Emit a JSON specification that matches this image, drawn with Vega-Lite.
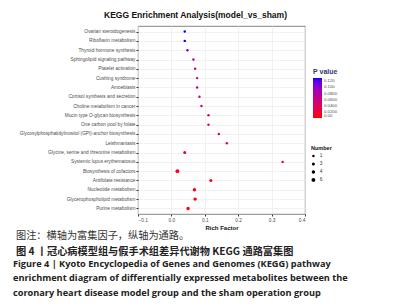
{
  "$schema": "https://vega.github.io/schema/vega-lite/v6.json",
  "padding": {"left": 12, "top": 10, "right": 0, "bottom": 0},
  "background": "white",
  "config": {
    "font": "Liberation Sans",
    "view": {"stroke": "#666666", "strokeWidth": 0.8},
    "concat": {"spacing": 0}
  },
  "title": {
    "text": ["Figure 4  |  Kyoto Encyclopedia of Genes and Genomes (KEGG) pathway", "enrichment diagram of differentially expressed metabolites between the", "coronary heart disease model group and the sham operation group"],
    "orient": "bottom",
    "anchor": "start",
    "frame": "bounds",
    "dx": -3,
    "offset": 3,
    "font": "Open Sans",
    "fontSize": 9.2,
    "fontWeight": "bold",
    "color": "#222222",
    "lineHeight": 14.3
  },
  "vconcat": [
    {
      "title": {
        "text": "图注：横轴为富集因子，纵轴为通路。",
        "subtitle": "图 4 丨冠心病模型组与假手术组差异代谢物 KEGG 通路富集图",
        "orient": "bottom",
        "anchor": "start",
        "frame": "bounds",
        "dx": -3,
        "offset": 0,
        "font": "Noto Sans CJK SC",
        "fontSize": 10.2,
        "fontWeight": "normal",
        "color": "#333333",
        "subtitleFont": "Noto Sans CJK SC",
        "subtitleFontSize": 10.2,
        "subtitleFontWeight": "bold",
        "subtitleColor": "#222222",
        "subtitlePadding": 6
      },
      "vconcat": [
        {
          "width": 167,
          "height": 188,
          "title": {
            "text": "KEGG Enrichment Analysis(model_vs_sham)",
            "anchor": "start",
            "frame": "group",
            "dx": -34,
            "offset": 7,
            "fontSize": 8.5,
            "fontWeight": "bold",
            "color": "#111111"
          },
          "data": {
            "values": [
              {"pathway": "Ovarian steroidogenesis", "rich": 0.040, "number": 1, "p": 0.131},
              {"pathway": "Riboflavin metabolism", "rich": 0.040, "number": 1, "p": 0.131},
              {"pathway": "Thyroid hormone synthesis", "rich": 0.048, "number": 1, "p": 0.112},
              {"pathway": "Sphingolipid signaling pathway", "rich": 0.066, "number": 1, "p": 0.083},
              {"pathway": "Platelet activation", "rich": 0.071, "number": 1, "p": 0.077},
              {"pathway": "Cushing syndrome", "rich": 0.077, "number": 1, "p": 0.071},
              {"pathway": "Amoebiasis", "rich": 0.077, "number": 1, "p": 0.071},
              {"pathway": "Cortisol synthesis and secretion", "rich": 0.084, "number": 1, "p": 0.066},
              {"pathway": "Choline metabolism in cancer", "rich": 0.090, "number": 1, "p": 0.061},
              {"pathway": "Mucin type O-glycan biosynthesis", "rich": 0.111, "number": 1, "p": 0.050},
              {"pathway": "One carbon pool by folate", "rich": 0.111, "number": 1, "p": 0.050},
              {"pathway": "Glycosylphosphatidylinositol (GPI)-anchor biosynthesis", "rich": 0.142, "number": 1, "p": 0.039},
              {"pathway": "Leishmaniasis", "rich": 0.166, "number": 1, "p": 0.033},
              {"pathway": "Glycine, serine and threonine metabolism", "rich": 0.040, "number": 3, "p": 0.025},
              {"pathway": "Systemic lupus erythematosus", "rich": 0.333, "number": 1, "p": 0.017},
              {"pathway": "Biosynthesis of cofactors", "rich": 0.018, "number": 6, "p": 0.010},
              {"pathway": "Antifolate resistance", "rich": 0.118, "number": 3, "p": 0.007},
              {"pathway": "Nucleotide metabolism", "rich": 0.069, "number": 4, "p": 0.004},
              {"pathway": "Glycerophospholipid metabolism", "rich": 0.071, "number": 4, "p": 0.003},
              {"pathway": "Purine metabolism", "rich": 0.050, "number": 4, "p": 0.002}
            ]
          },
          "mark": {"type": "circle", "opacity": 1},
          "encoding": {
            "x": {
              "field": "rich",
              "type": "quantitative",
              "scale": {"domain": [-0.1, 0.4], "nice": false, "zero": false},
              "axis": {
                "title": "Rich Factor",
                "values": [-0.1, 0, 0.1, 0.2, 0.3, 0.4],
                "labelFontSize": 4.8,
                "labelColor": "#4d4d4d",
                "labelPadding": 1.5,
                "tickSize": 2,
                "tickColor": "#333333",
                "domain": false,
                "gridColor": "#ebebeb",
                "gridWidth": 0.7,
                "titleFontSize": 6,
                "titleFontWeight": "bold",
                "titleColor": "#111111",
                "titlePadding": 2
              }
            },
            "y": {
              "field": "pathway",
              "type": "nominal",
              "sort": null,
              "scale": {"type": "point", "padding": 0.6},
              "axis": {
                "title": null,
                "labelFontSize": 4.75,
                "labelColor": "#4d4d4d",
                "labelPadding": 1,
                "labelLimit": 300,
                "tickSize": 2,
                "tickColor": "#333333",
                "domain": false,
                "grid": true,
                "gridColor": "#ebebeb",
                "gridWidth": 0.7
              }
            },
            "color": {
              "field": "p",
              "type": "quantitative",
              "scale": {"domain": [0, 0.131], "range": ["#ff0000", "#0000ff"], "interpolate": "lab"},
              "legend": {
                "title": "P value",
                "orient": "none",
                "legendX": 175,
                "legendY": 42,
                "direction": "vertical",
                "gradientLength": 40,
                "gradientThickness": 9,
                "gradientStrokeWidth": 0,
                "values": [0, 0.02, 0.04, 0.06, 0.08, 0.1, 0.12],
                "labelExpr": "datum.value == 0 ? '0.00' : (datum.value >= 0.099 ? format(datum.value, '.3f') : format(datum.value, '.4f'))",
                "labelOverlap": false,
                "labelFontSize": 4.3,
                "labelColor": "#4d4d4d",
                "titleFontSize": 7,
                "titleFontWeight": "bold",
                "titleColor": "#2a3a6a",
                "titlePadding": 3
              }
            },
            "size": {
              "field": "number",
              "type": "ordinal",
              "scale": {"domain": [1, 3, 4, 6], "range": [6, 15, 25, 48]},
              "legend": {
                "title": "Number",
                "orient": "none",
                "legendX": 173,
                "legendY": 120,
                "symbolType": "circle",
                "symbolFillColor": "black",
                "symbolStrokeWidth": 0,
                "symbolOpacity": 1,
                "labelFontSize": 4.8,
                "labelColor": "#333333",
                "titleFontSize": 5.5,
                "titleFontWeight": "bold",
                "titleColor": "#111111",
                "titlePadding": 2,
                "rowPadding": 2
              }
            }
          }
        }
      ]
    }
  ]
}
